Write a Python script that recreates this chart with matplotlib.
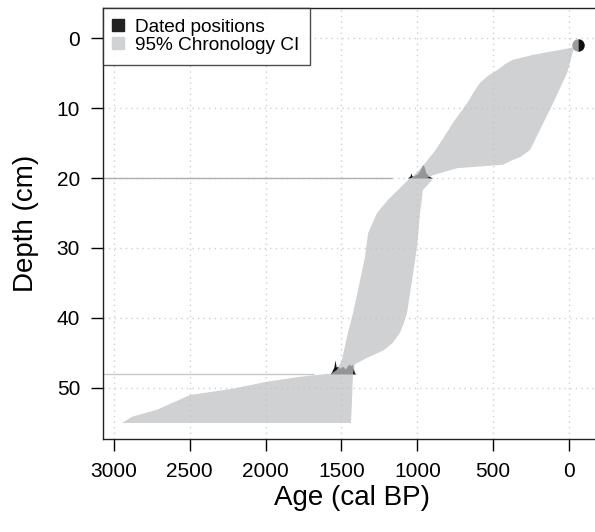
import numpy as np
import matplotlib
matplotlib.use("Agg")
import matplotlib.pyplot as plt
from matplotlib.lines import Line2D

plt.rcParams['font.family'] = ['Liberation Sans', 'DejaVu Sans']

# ---- data (ages cal BP, depths cm) ----
# section 1: 1-20 cm
s1_old_depth = [0.6, 1.3, 2.4, 3.1, 3.7, 4.6, 5.4, 6.4, 7.8, 9.3, 12.1, 14.0, 16.0, 17.9, 18.9, 19.9, 20.0]
s1_old_age   = [-62, -40, 237, 369, 420, 475, 535, 587, 630, 672, 765, 820, 880, 950, 990, 1035, 1040]
s1_young_depth = [0.6, 1.6, 5.0, 9.3, 13.1, 16.0, 17.0, 17.4, 18.1, 18.6, 19.6, 20.0]
s1_young_age   = [-62, -30, 13, 105, 191, 257, 320, 369, 435, 738, 897, 936]
# section 2: 20-48 cm
s2_old_depth = [20.0, 23.1, 25.0, 27.9, 31.3, 36.0, 39.3, 42.7, 46.0, 47.4, 48.0]
s2_old_age   = [1048, 1193, 1266, 1325, 1345, 1391, 1424, 1464, 1497, 1530, 1570]
s2_young_depth = [20.0, 20.3, 21.7, 25.0, 29.9, 34.6, 39.3, 40.8, 42.1, 43.5, 44.6, 45.7, 46.6, 47.9, 48.0]
s2_young_age   = [930, 903, 963, 982, 1002, 1035, 1068, 1090, 1114, 1160, 1220, 1332, 1411, 1424, 1424]
# section 3: 48-55 cm
s3_old_depth = [48.0, 48.2, 48.4, 49.1, 50.1, 51.0, 53.1, 54.1, 55.0]
s3_old_age   = [1600, 1690, 1773, 1991, 2215, 2498, 2715, 2880, 2946]
s3_young_depth = [48.0, 55.0]
s3_young_age   = [1424, 1437]

# dated positions (calibrated distributions)
date_depths = [1.0, 20.0, 48.0]
d20_age  = [1065, 1048, 1042, 1036, 1020, 1000, 985, 972, 963, 955, 945, 930, 915, 900]
d20_dens = [0, 0.3, 0.75, 0.3, 0.35, 0.6, 1.0, 1.6, 1.9, 1.6, 0.8, 0.4, 0.15, 0]
d48_age  = [1575, 1565, 1550, 1543, 1535, 1523, 1510, 1500, 1490, 1475, 1460, 1451, 1440, 1431, 1424, 1415, 1404]
d48_dens = [0, 0.3, 1.0, 2.0, 1.0, 1.1, 0.8, 1.0, 1.1, 0.7, 1.2, 1.4, 1.2, 1.4, 1.0, 0.2, 0]
d1_age = -60
tail_end_age = [1170, 1680]   # extent of flat tails at 20 and 48 cm

xticks = [3000, 2500, 2000, 1500, 1000, 500, 0]
yticks = [0, 10, 20, 30, 40, 50]

# ---- figure ----
fig = plt.figure(figsize=(5.95, 5.32), dpi=100)
W, H = 595, 532
ax = fig.add_axes([103 / W, 1 - 439 / H, (600 - 103) / W, (439 - 8) / H])
ax.set_xlim(3072, -204)
ax.set_ylim(57.29, -4.29)

ax.set_xticks(xticks)
ax.set_yticks(yticks)
ax.grid(True, color='#cfcfcf', linestyle=(0, (1, 3)), linewidth=1)
ax.set_axisbelow(True)

# tails
ax.hlines(date_depths[1], 3072, tail_end_age[0], color='#b0b0b0', lw=1, zorder=2)
ax.hlines(date_depths[2], 3072, tail_end_age[1], color='#c8c8c8', lw=1, zorder=2)

# dated distributions (black, drawn below the semi-transparent CI)
ax.fill_between(d20_age, date_depths[1], date_depths[1] - np.array(d20_dens),
                color='#111111', lw=0, zorder=3)
ax.fill_between(d48_age, date_depths[2], date_depths[2] - np.array(d48_dens),
                color='#111111', lw=0, zorder=3)
ax.plot([d1_age], [date_depths[0]], 'o', ms=9, mew=0, fillstyle='left',
        markerfacecolor='#9c9c9c', markerfacecoloralt='#111111', zorder=5)

ci_col = (193 / 255, 194 / 255, 196 / 255)
for od, oa, yd, ya in [(s1_old_depth, s1_old_age, s1_young_depth, s1_young_age),
                       (s2_old_depth, s2_old_age, s2_young_depth, s2_young_age),
                       (s3_old_depth, s3_old_age, s3_young_depth, s3_young_age)]:
    xs = list(oa) + list(ya)[::-1]
    ys = list(od) + list(yd)[::-1]
    ax.fill(xs, ys, color=ci_col, alpha=0.75, lw=0, zorder=4)

ax.tick_params(axis='both', labelsize=15, length=8.5, width=1, direction='out')
ax.tick_params(axis='x', pad=8)
ax.tick_params(axis='y', pad=8)
for s in ax.spines.values():
    s.set_linewidth(1)
    s.set_color('#222222')

ax.set_xlabel('Age (cal BP)', fontsize=20, labelpad=3)
ax.set_ylabel('Depth (cm)', fontsize=20, labelpad=13)

handles = [Line2D([], [], marker='s', ls='none', color='#222222', ms=8),
           Line2D([], [], marker='s', ls='none', color='#d1d2d4', ms=8)]
leg = ax.legend(handles, ['Dated positions', '95% Chronology CI'], loc='upper left',
                fontsize=13.7, frameon=True, fancybox=False, borderaxespad=0,
                borderpad=0.55, handlelength=0.45, handletextpad=0.7, labelspacing=0.05)
leg.get_frame().set_edgecolor('#222222')
leg.get_frame().set_linewidth(1)
leg.set_zorder(10)

fig.savefig('out.png', dpi=100)
